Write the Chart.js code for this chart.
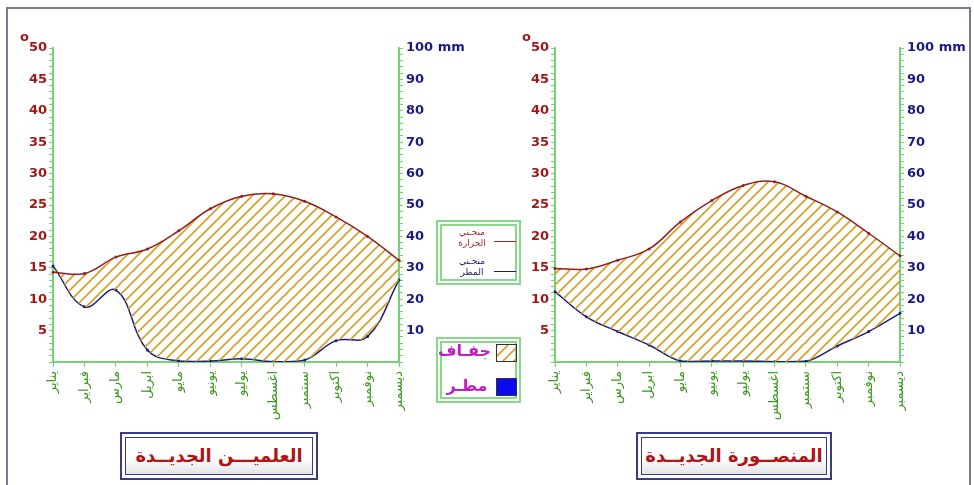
<!DOCTYPE html>
<html>
<head>
<meta charset="utf-8">
<script src="https://cdn.jsdelivr.net/npm/chart.js@4.4.1/dist/chart.umd.min.js"></script>
<style>
  body { margin:0; width:974px; height:485px; overflow:hidden; position:relative; background:#fff; font-family:"DejaVu Sans", sans-serif; }
  #frame { position:absolute; left:6px; top:7px; width:961px; height:490px; border:2px solid #7a7a92; }
  canvas { position:absolute; top:20px; }
  .abs { position:absolute; white-space:nowrap; }
  .deg { color:#a01818; font:bold 13px "DejaVu Sans"; }
  .box2 { position:absolute; border:2px solid #86d986; }
  .box2 > div { position:absolute; left:2px; top:2px; right:2px; bottom:2px; border:2px solid #86d986; }
  .title { position:absolute; border:2px solid #3a3a86; }
  .title > div { position:absolute; left:3px; top:3px; right:3px; bottom:3px; border:1px solid #3a3a86;
                 background:linear-gradient(#ffffff, #ffffff 55%, #e4e4e8); color:#b01414; white-space:nowrap;
                 font:bold 18px "DejaVu Sans"; text-align:center; line-height:36px; direction:rtl; }
  .sw { position:absolute; width:19px; height:16px; border:1px solid #333; }
</style>
</head>
<body>
<div id="frame"></div>

<canvas id="alamein" width="461" height="410" style="left:10px"></canvas>
<canvas id="mansoura" width="460" height="410" style="left:512px"></canvas>

<div class="abs deg" style="left:20px;top:29px">o</div>
<div class="abs deg" style="left:522px;top:29px">o</div>

<!-- legend: curves -->
<div class="box2" style="left:436px;top:220px;width:81px;height:61px"><div></div></div>
<div class="abs" style="left:452px;top:227px;width:40px;text-align:center;color:#a02a2a;font-size:9px;line-height:11px;direction:rtl">منحـني<br>الحرارة</div>
<div class="abs" style="left:494px;top:241px;width:22px;height:1px;background:#a02a2a"></div>
<div class="abs" style="left:452px;top:256px;width:40px;text-align:center;color:#20207a;font-size:9px;line-height:11px;direction:rtl">منحـني<br>المطر</div>
<div class="abs" style="left:494px;top:271px;width:22px;height:1px;background:#20207a"></div>

<!-- legend: areas -->
<div class="box2" style="left:436px;top:337px;width:81px;height:62px"><div></div></div>
<div class="abs" style="left:443px;top:341px;width:48px;text-align:center;color:#c21cc2;font:bold 16px 'DejaVu Sans';direction:rtl">جفـاف</div>
<div class="sw" id="dryswatch" style="left:496px;top:344px"></div>
<div class="abs" style="left:443px;top:376px;width:48px;text-align:center;color:#c21cc2;font:bold 16px 'DejaVu Sans';direction:rtl">مطـر</div>
<div class="sw" style="left:496px;top:378px;background:#0a0aee"></div>

<div class="title" style="left:120px;top:432px;width:194px;height:44px"><div>العلميـــن الجديــدة</div></div>
<div class="title" style="left:636px;top:432px;width:192px;height:44px"><div>المنصــورة الجديــدة</div></div>

<script>
// months on the x axis
const months = ['يناير','فبراير','مارس','ابريل','مايو','يونيو','يوليو','اغسطس','سبتمبر','اكتوبر','نوفمبر','ديسمبر'];

// العلمين الجديدة - temperature (C) and rain (mm)
const alameinTemp = [14.3, 14.1, 16.7, 18.0, 20.9, 24.4, 26.4, 26.8, 25.6, 23.1, 20.0, 16.2];
const alameinRain = [30.6, 17.6, 22.9, 3.8, 0.3, 0.3, 1.0, 0.1, 0.6, 6.8, 8.1, 26.1];

// المنصورة الجديدة
const mansouraTemp = [14.9, 14.8, 16.2, 18.0, 22.3, 25.7, 28.1, 28.7, 26.4, 23.9, 20.5, 16.9];
const mansouraRain = [22.4, 14.4, 9.7, 5.4, 0.3, 0.3, 0.3, 0.1, 0.2, 5.1, 9.7, 15.5];

// axis ranges (rain scale = 2 x temp scale)
const tempMax = 50;
const rainMax = 100;

const green = '#74d274';

// diagonal hatch for the dry area
function hatch() {
    const c = document.createElement('canvas');
    c.width = 11; c.height = 11;
    const g = c.getContext('2d');
    g.strokeStyle = '#d3a025';
    g.lineWidth = 1.6;
    g.beginPath();
    g.moveTo(0, 11); g.lineTo(11, 0);
    g.moveTo(-5.5, 5.5); g.lineTo(5.5, -5.5);
    g.moveTo(5.5, 16.5); g.lineTo(16.5, 5.5);
    g.stroke();
    return c;
}
const hatchTile = hatch();
document.getElementById('dryswatch').style.background = 'url(' + hatchTile.toDataURL() + ')';

function drawChart(id, temp, rain) {
    const ctx = document.getElementById(id);
    const pattern = ctx.getContext('2d').createPattern(hatchTile, 'repeat');
    return new Chart(ctx, {
        type: 'line',
        data: {
            labels: months,
            datasets: [{
                label: 'temp',
                data: temp,
                yAxisID: 'yT',
                borderColor: '#922020',
                borderWidth: 1.5,
                pointRadius: 1.5,
                pointBorderWidth: 0,
                pointBackgroundColor: '#922020',
                tension: 0.4,
                fill: '+1',
                backgroundColor: pattern
            }, {
                label: 'rain',
                data: rain,
                yAxisID: 'yR',
                borderColor: '#1c1c7c',
                borderWidth: 1.5,
                pointRadius: 1.5,
                pointBorderWidth: 0,
                pointBackgroundColor: '#1c1c7c',
                tension: 0.4,
                fill: false
            }]
        },
        options: {
            responsive: false,
            animation: false,
            layout: { padding: { top: 28 } },
            plugins: {
                legend: { display: false },
                tooltip: { enabled: false }
            },
            scales: {
                x: {
                    grid: { drawOnChartArea: false, color: green, tickLength: 5 },
                    border: { color: green, width: 2 },
                    ticks: {
                        color: '#3c9a1e',
                        font: { family: 'DejaVu Sans', size: 13 },
                        minRotation: 90, maxRotation: 90,
                        autoSkip: false,
                        padding: 4
                    },
                    afterFit: s => { s.height = 68; }
                },
                yT: {
                    position: 'left',
                    min: 0, max: tempMax,
                    grid: { drawOnChartArea: false, color: green, tickLength: 4 },
                    border: { color: green, width: 2 },
                    ticks: {
                        stepSize: 1,
                        autoSkip: false,
                        maxTicksLimit: 100,
                        color: '#a01818',
                        font: { family: 'DejaVu Sans', size: 13, weight: 'bold' },
                        padding: 2,
                        callback: v => (v % 5 === 0 && v > 0) ? v : ''
                    },
                    afterFit: s => { s.width = 43; }
                },
                yR: {
                    position: 'right',
                    min: 0, max: rainMax,
                    grid: { drawOnChartArea: false, color: green, tickLength: 4 },
                    border: { color: green, width: 2 },
                    ticks: {
                        stepSize: 2,
                        autoSkip: false,
                        maxTicksLimit: 100,
                        color: '#1a1a86',
                        font: { family: 'DejaVu Sans', size: 13, weight: 'bold' },
                        padding: 3,
                        callback: v => (v % 10 === 0 && v > 0) ? (v === 100 ? '100 mm' : v) : ''
                    },
                    afterFit: s => { s.width = 72; }
                }
            }
        }
    });
}

drawChart('alamein', alameinTemp, alameinRain);
drawChart('mansoura', mansouraTemp, mansouraRain);
</script>
</body>
</html>
